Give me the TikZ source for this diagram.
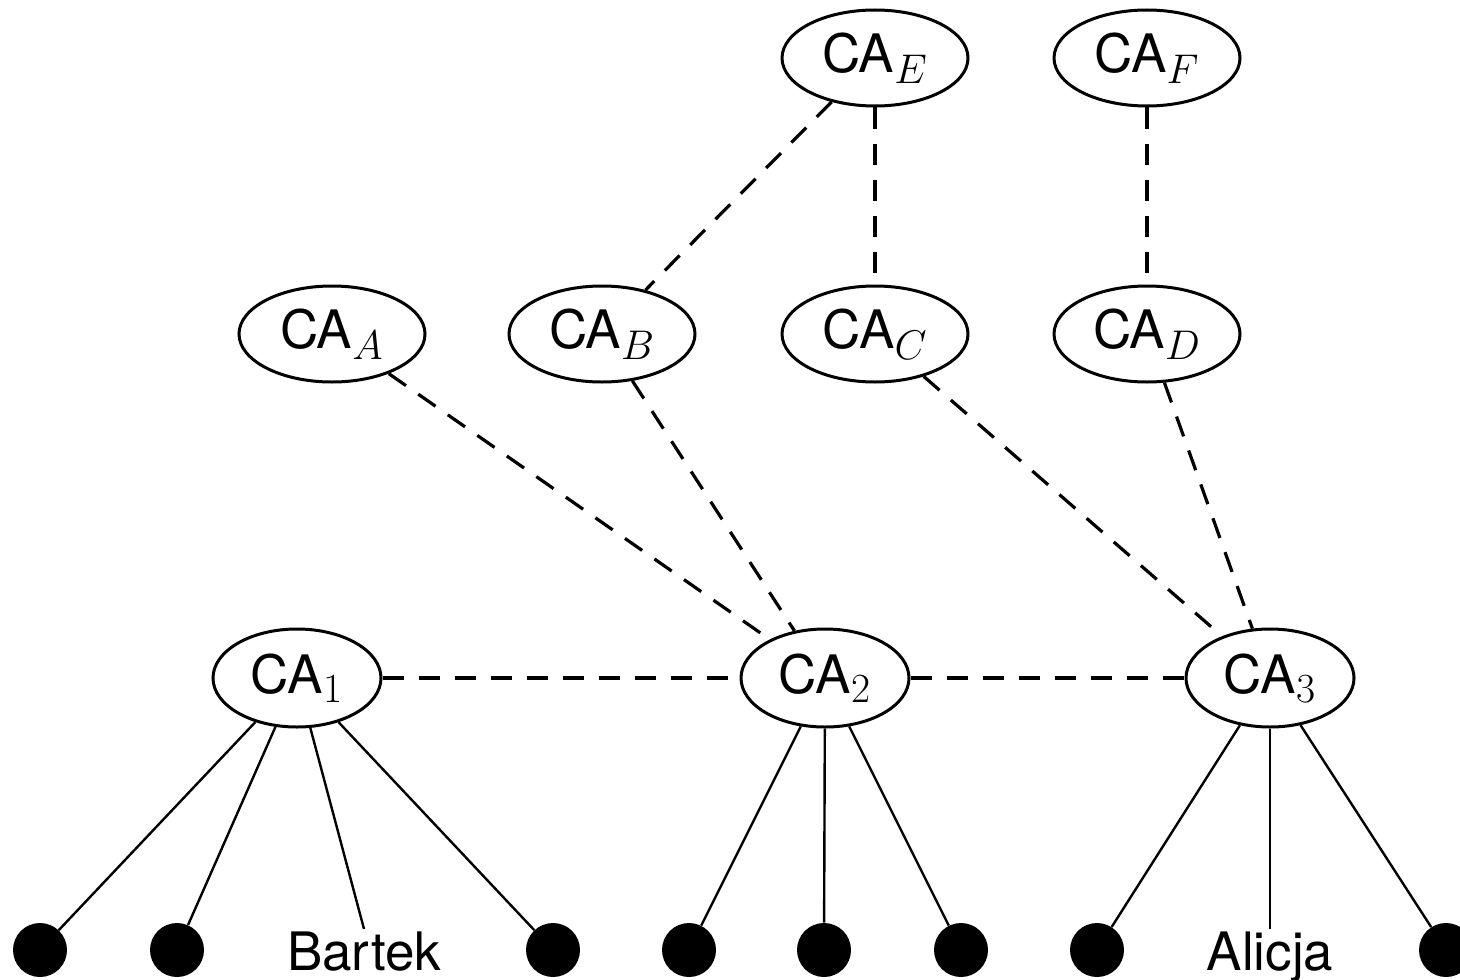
\documentclass[tikz,border=0pt]{standalone}
\usepackage[no-math]{fontspec}
\setsansfont{TeX Gyre Heros}
\DeclareMathSizes{26.5}{26.5}{21}{15}
\usetikzlibrary{shapes.geometric}
\begin{document}
\begin{tikzpicture}[x=0.5pt,y=-0.5pt,
  ca/.style={ellipse,draw,line width=1.5pt,inner sep=0pt,font=\sffamily\fontsize{26.5}{30}\selectfont},
  catop/.style={ca,minimum width=93pt,minimum height=48pt},
  cabot/.style={ca,minimum width=84pt,minimum height=49pt},
  leaf/.style={circle,fill=black,minimum size=27pt,inner sep=0pt},
  person/.style={font=\sffamily\fontsize{26.5}{30}\selectfont,inner sep=1pt,anchor=base},
  link/.style={line width=1.6pt,dash pattern=on 10.5pt off 7.5pt},
  wire/.style={line width=1.2pt}]
\useasboundingbox (0,0) rectangle (1460,979);
% top row
\node[catop] (CAE) at (875,58) {CA$_E$};
\node[catop] (CAF) at (1147,58) {CA$_F$};
% middle row
\node[catop] (CAA) at (332,334) {CA$_A$};
\node[catop] (CAB) at (602,334) {CA$_B$};
\node[catop] (CAC) at (875,334) {CA$_C$};
\node[catop] (CAD) at (1147,334) {CA$_D$};
% bottom CA row
\node[cabot] (CA1) at (297,678) {CA$_1$};
\node[cabot] (CA2) at (825,678) {CA$_2$};
\node[cabot] (CA3) at (1270,678) {CA$_3$};
% leaves
\node[leaf] (l1) at (40,950) {};
\node[leaf] (l2) at (177,950) {};
\node[person] (bartek) at (364,970) {Bartek};
\node[leaf] (l4) at (553,950) {};
\node[leaf] (l5) at (689,950) {};
\node[leaf] (l6) at (824,950) {};
\node[leaf] (l7) at (961,950) {};
\node[leaf] (l8) at (1097,950) {};
\node[person] (alicja) at (1270,970) {Alicja};
\node[leaf] (l9) at (1446,950) {};
% dashed links
\draw[link] (CAE) -- (CAB);
\draw[link] (CAE) -- (CAC);
\draw[link] (CAF) -- (CAD);
\draw[link] (CAA) -- (CA2);
\draw[link] (CAB) -- (CA2);
\draw[link] (CAC) -- (CA3);
\draw[link] (CAD) -- (CA3);
\draw[link] (CA1) -- (CA2);
\draw[link] (CA2) -- (CA3);
% solid wires
\draw[wire] (CA1) -- (l1);
\draw[wire] (CA1) -- (l2);
\draw[wire] (CA1) -- (bartek.north);
\draw[wire] (CA1) -- (l4);
\draw[wire] (CA2) -- (l5);
\draw[wire] (CA2) -- (l6);
\draw[wire] (CA2) -- (l7);
\draw[wire] (CA3) -- (l8);
\draw[wire] (CA3) -- (alicja.north);
\draw[wire] (CA3) -- (l9);
\end{tikzpicture}
\end{document}
